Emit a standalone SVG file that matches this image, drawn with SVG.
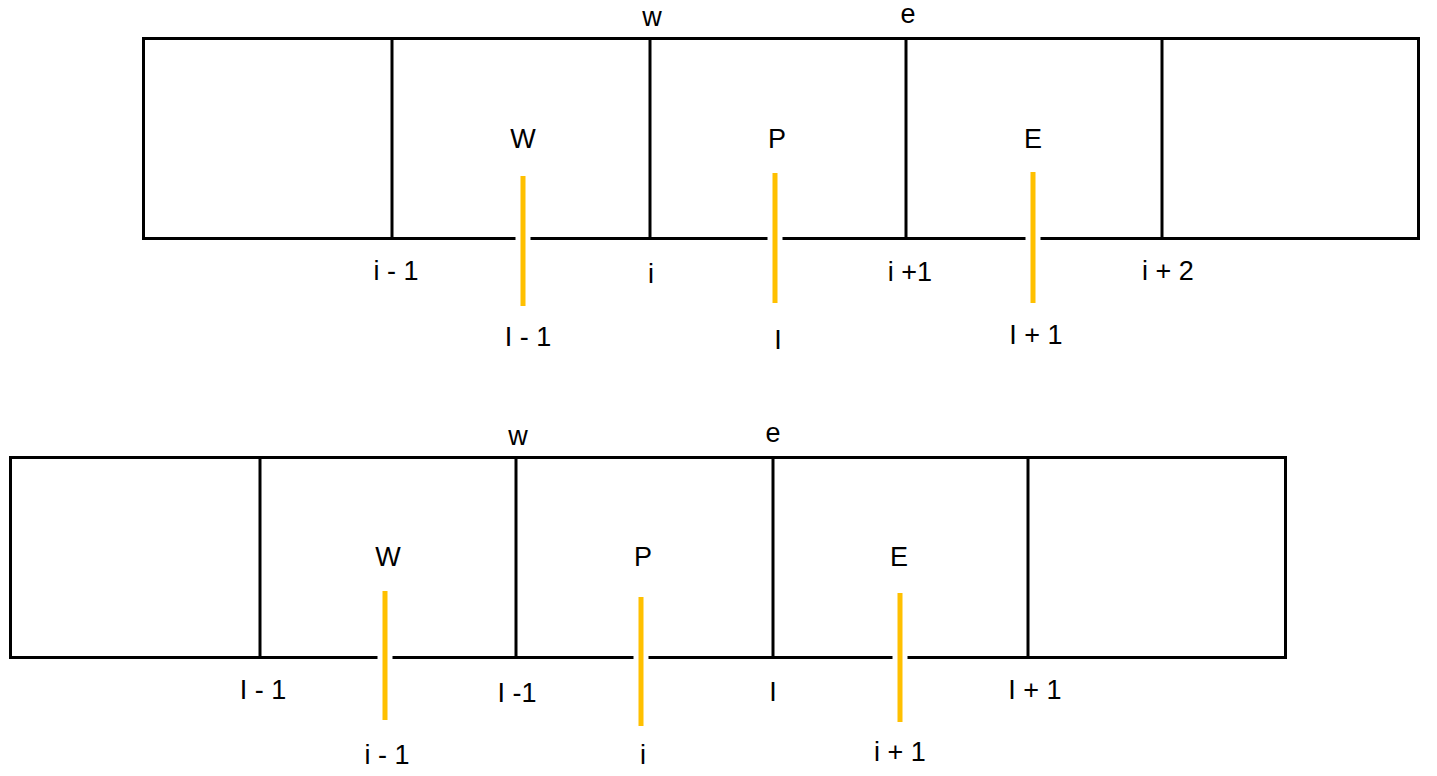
<svg xmlns="http://www.w3.org/2000/svg" width="1437" height="776" viewBox="0 0 1437 776">
<style>
.cell{fill:none;stroke:#000;stroke-width:3}
.div{stroke:#000;stroke-width:3}
.gap{stroke:#fff;stroke-width:15}
.bar{stroke:#FFC000;stroke-width:5}
text{font-family:"Liberation Sans",Arial,sans-serif;font-size:27px;fill:#000;text-anchor:middle}
</style>
<rect width="1437" height="776" fill="#fff"/>
<g id="top-grid">
<rect class="cell" x="143.5" y="38.5" width="1275" height="200"/>
<line class="div" x1="392" y1="38" x2="392" y2="238"/>
<line class="div" x1="650" y1="38" x2="650" y2="238"/>
<line class="div" x1="906" y1="38" x2="906" y2="238"/>
<line class="div" x1="1162" y1="38" x2="1162" y2="238"/>
</g>
<g id="bottom-grid">
<rect class="cell" x="10.5" y="457.5" width="1275" height="200"/>
<line class="div" x1="260" y1="457" x2="260" y2="657"/>
<line class="div" x1="516" y1="457" x2="516" y2="657"/>
<line class="div" x1="773" y1="457" x2="773" y2="657"/>
<line class="div" x1="1028" y1="457" x2="1028" y2="657"/>
</g>
<g id="connectors">
<line class="gap" x1="523" y1="226" x2="523" y2="250"/>
<line class="bar" x1="523" y1="176" x2="523" y2="306"/>
<line class="gap" x1="775" y1="226" x2="775" y2="250"/>
<line class="bar" x1="775" y1="173" x2="775" y2="303"/>
<line class="gap" x1="1033" y1="226" x2="1033" y2="250"/>
<line class="bar" x1="1033" y1="172" x2="1033" y2="303"/>
<line class="gap" x1="385" y1="645" x2="385" y2="669"/>
<line class="bar" x1="385" y1="591" x2="385" y2="720"/>
<line class="gap" x1="641" y1="645" x2="641" y2="669"/>
<line class="bar" x1="641" y1="597" x2="641" y2="726"/>
<line class="gap" x1="900" y1="645" x2="900" y2="669"/>
<line class="bar" x1="900" y1="593" x2="900" y2="722"/>
</g>
<g id="top-labels">
<text x="652" y="26">w</text>
<text x="908" y="23">e</text>
<text x="523" y="148">W</text>
<text x="777" y="148">P</text>
<text x="1033" y="148">E</text>
<text x="396" y="280">i - 1</text>
<text x="651" y="283">i</text>
<text x="910" y="281">i +1</text>
<text x="1168" y="280">i + 2</text>
<text x="528" y="346">I - 1</text>
<text x="778" y="349">I</text>
<text x="1036" y="344">I + 1</text>
</g>
<g id="bottom-labels">
<text x="518" y="445">w</text>
<text x="773" y="442">e</text>
<text x="388" y="566">W</text>
<text x="643" y="566">P</text>
<text x="899" y="566">E</text>
<text x="263" y="699">I - 1</text>
<text x="517" y="702">I -1</text>
<text x="773" y="701">I</text>
<text x="1035" y="699">I + 1</text>
<text x="387" y="764">i - 1</text>
<text x="643" y="764">i</text>
<text x="900" y="761">i + 1</text>
</g>
</svg>
